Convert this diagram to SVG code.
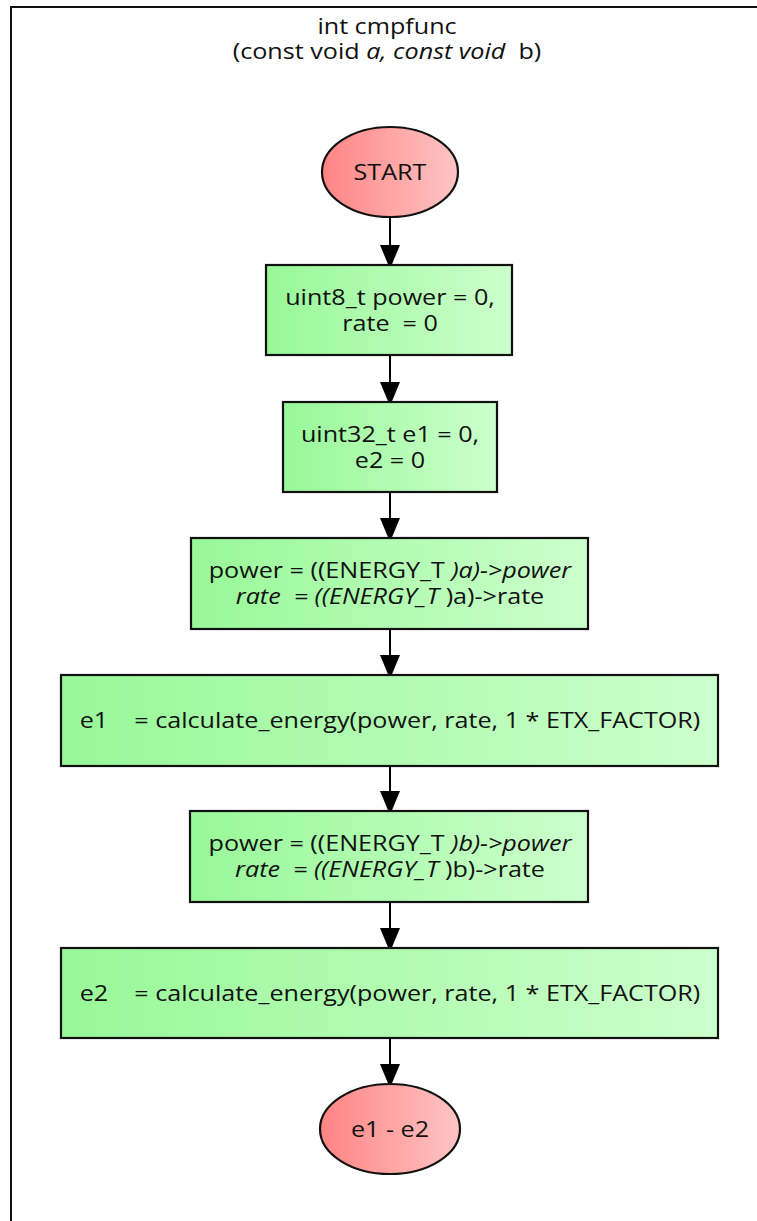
<svg xmlns="http://www.w3.org/2000/svg" width="757" height="1221" viewBox="0 0 757 1221">
<defs>
<linearGradient id="gG" x1="0" y1="0" x2="1" y2="0">
<stop offset="0" stop-color="#98f898"/>
<stop offset="1" stop-color="#ccffcc"/>
</linearGradient>
<linearGradient id="gR" x1="0" y1="0" x2="1" y2="0">
<stop offset="0" stop-color="#ff8484"/>
<stop offset="1" stop-color="#ffc4c4"/>
</linearGradient>
<marker id="arr" viewBox="0 0 20 24" refX="20" refY="10" markerWidth="20" markerHeight="24" markerUnits="userSpaceOnUse" orient="auto">
<path d="M0,0 L24,10 L0,20 z" fill="#000"/>
</marker>
<style>
text{font-family:"Open Sans","Noto Sans",sans-serif;font-size:21.5px;fill:#111;text-anchor:middle;white-space:pre}
.b{stroke:#111;stroke-width:2.2;fill:url(#gG)}
.e{stroke:#111;stroke-width:2.2;fill:url(#gR)}
.i{font-style:italic}
.c line{stroke:#000;stroke-width:2}
</style>
</defs>
<rect width="757" height="1221" fill="#fff"/>
<path d="M11,1221 V7 H757" fill="none" stroke="#111" stroke-width="2"/>
<g id="title" transform="matrix(1.17 0 0 1 -65.79 0)">
<text x="387" y="34">int cmpfunc</text>
<text x="387" y="59">(const void <tspan class="i">a, const void</tspan>  b)</text>
</g>
<g class="c" id="connectors">
<line x1="390" y1="217" x2="390" y2="265" marker-end="url(#arr)"/>
<line x1="390" y1="355" x2="390" y2="402" marker-end="url(#arr)"/>
<line x1="390" y1="492" x2="390" y2="538" marker-end="url(#arr)"/>
<line x1="390" y1="629" x2="390" y2="675" marker-end="url(#arr)"/>
<line x1="390" y1="766" x2="390" y2="811" marker-end="url(#arr)"/>
<line x1="390" y1="902" x2="390" y2="948" marker-end="url(#arr)"/>
<line x1="390" y1="1038" x2="390" y2="1084" marker-end="url(#arr)"/>
</g>
<g id="start">
<ellipse class="e" cx="390" cy="172" rx="68" ry="45"/>
<g transform="matrix(1.17 0 0 1 -66.3 0)"><text x="390" y="180">START</text></g>
</g>
<g id="n1">
<rect class="b" x="266" y="265" width="246" height="90"/>
<g transform="matrix(1.17 0 0 1 -66.3 0)">
<text x="390" y="305">uint8_t power = 0,</text>
<text x="390" y="331">rate  = 0</text>
</g>
</g>
<g id="n2">
<rect class="b" x="283" y="402" width="214" height="90"/>
<g transform="matrix(1.17 0 0 1 -66.3 0)">
<text x="390" y="442">uint32_t e1 = 0,</text>
<text x="390" y="468">e2 = 0</text>
</g>
</g>
<g id="n3">
<rect class="b" x="191" y="538" width="397" height="91"/>
<g transform="matrix(1.17 0 0 1 -66.3 0)">
<text x="390" y="578">power = ((ENERGY_T <tspan class="i">)a)-&gt;power</tspan></text>
<text x="390" y="604"><tspan class="i">rate  = ((ENERGY_T </tspan>)a)-&gt;rate</text>
</g>
</g>
<g id="n4">
<rect class="b" x="61" y="675" width="657" height="91"/>
<g transform="matrix(1.17 0 0 1 -66.3 0)">
<text x="390" y="728">e1    = calculate_energy(power, rate, 1 * ETX_FACTOR)</text>
</g>
</g>
<g id="n5">
<rect class="b" x="190" y="811" width="398" height="91"/>
<g transform="matrix(1.17 0 0 1 -66.3 0)">
<text x="390" y="851">power = ((ENERGY_T <tspan class="i">)b)-&gt;power</tspan></text>
<text x="390" y="877"><tspan class="i">rate  = ((ENERGY_T </tspan>)b)-&gt;rate</text>
</g>
</g>
<g id="n6">
<rect class="b" x="61" y="948" width="657" height="90"/>
<g transform="matrix(1.17 0 0 1 -66.3 0)">
<text x="390" y="1001">e2    = calculate_energy(power, rate, 1 * ETX_FACTOR)</text>
</g>
</g>
<g id="end">
<ellipse class="e" cx="390" cy="1129" rx="70" ry="45"/>
<g transform="matrix(1.17 0 0 1 -66.3 0)"><text x="390" y="1137">e1 - e2</text></g>
</g>
</svg>
